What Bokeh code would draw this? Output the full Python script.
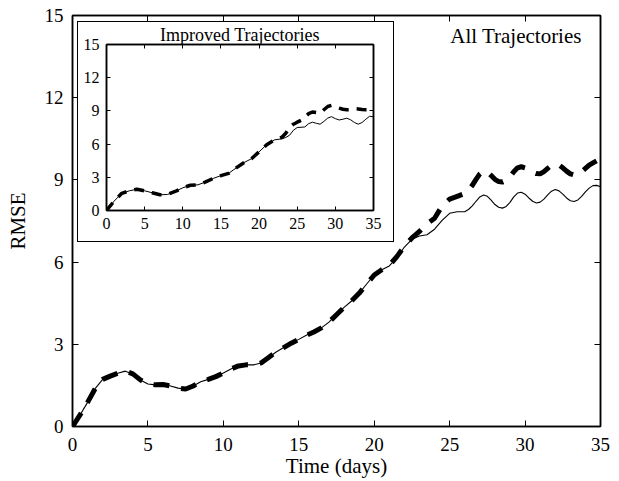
from bokeh.plotting import figure
from bokeh.models import FixedTicker, LinearAxis, Label, Range1d
from bokeh.embed import file_html
from bokeh.resources import INLINE

# ---------------- data ----------------
days_all = [0.0, 0.5, 1.0, 1.5, 2.0, 2.5, 3.0, 3.5, 4.0, 4.5, 5.0, 5.5, 6.0, 6.5, 7.0, 7.5,
            8.0, 8.5, 9.0, 9.5, 10.0, 10.5, 11.0, 11.5, 12.0, 12.5, 13.0, 13.5, 14.0, 14.5,
            15.0, 15.5, 16.0, 16.5, 17.0, 17.5, 18.0, 18.5, 19.0, 19.5, 20.0, 20.5, 21.0,
            21.5, 22.0, 22.5, 23.0, 23.5, 24.0, 24.5, 25.0, 25.5,
            26.0, 26.25, 26.5, 26.75, 27.0, 27.25, 27.5, 27.75, 28.0, 28.25, 28.5, 28.75,
            29.0, 29.25, 29.5, 29.75, 30.0, 30.25, 30.5, 30.75, 31.0, 31.25, 31.5, 31.75,
            32.0, 32.25, 32.5, 32.75, 33.0, 33.25, 33.5, 33.75, 34.0, 34.25, 34.5, 34.75, 35.0]
rmse_all_solid = [0.00, 0.42, 0.88, 1.38, 1.72, 1.84, 1.94, 2.02, 1.92, 1.70, 1.55, 1.52, 1.53,
                  1.48, 1.40, 1.37, 1.48, 1.63, 1.72, 1.82, 1.95, 2.10, 2.21, 2.25, 2.25, 2.32,
                  2.52, 2.72, 2.88, 3.04, 3.18, 3.33, 3.45, 3.60, 3.81, 4.08, 4.35, 4.58, 4.86,
                  5.20, 5.53, 5.72, 5.86, 6.15, 6.55, 6.83, 6.95, 7.00, 7.20, 7.52, 7.78, 7.84,
                  7.84, 7.92, 8.05, 8.22, 8.38, 8.45, 8.40, 8.26, 8.10, 8.00, 7.97, 8.03,
                  8.18, 8.38, 8.52, 8.55, 8.48, 8.34, 8.22, 8.16, 8.19, 8.30, 8.45, 8.59,
                  8.65, 8.60, 8.48, 8.34, 8.24, 8.21, 8.27, 8.40, 8.56, 8.70, 8.79, 8.80, 8.75]
rmse_all_dashed = [0.00, 0.42, 0.88, 1.38, 1.72, 1.84, 1.94, 2.02, 1.92, 1.70, 1.55, 1.52, 1.53,
                   1.48, 1.40, 1.37, 1.48, 1.63, 1.72, 1.82, 1.95, 2.10, 2.21, 2.25, 2.25, 2.32,
                   2.52, 2.72, 2.88, 3.04, 3.18, 3.33, 3.45, 3.60, 3.81, 4.08, 4.35, 4.58, 4.86,
                   5.20, 5.53, 5.72, 5.88, 6.20, 6.58, 6.88, 7.12, 7.40, 7.60, 8.05, 8.30, 8.40,
                   8.50, 8.62, 8.80, 9.02, 9.22, 9.33, 9.30, 9.16, 9.02, 8.94, 8.92, 8.98,
                   9.12, 9.30, 9.44, 9.48, 9.44, 9.36, 9.28, 9.23, 9.22, 9.30, 9.42, 9.53,
                   9.58, 9.54, 9.44, 9.32, 9.22, 9.18, 9.20, 9.30, 9.42, 9.54, 9.62, 9.70, 9.76]

days_imp = [0, 1, 2, 3, 4, 5, 6, 7, 8, 9, 10, 11, 12, 13, 14, 15, 16, 17, 18, 19, 20, 21, 22,
            23, 23.5, 24, 24.5, 25, 25.5, 26, 26.5, 27, 27.5, 28, 28.5, 29, 29.5, 30, 30.5,
            31, 31.5, 32, 32.5, 33, 33.5, 34, 34.5, 35]
rmse_imp_solid = [0.00, 0.85, 1.55, 1.78, 1.92, 1.78, 1.60, 1.42, 1.45, 1.72, 2.05, 2.28, 2.32,
                  2.58, 2.90, 3.15, 3.35, 3.85, 4.32, 4.68, 5.30, 5.95, 6.38, 6.48, 6.60, 6.80,
                  7.25, 7.50, 7.52, 7.55, 7.85, 7.98, 7.88, 7.80, 8.05, 8.35, 8.48, 8.30, 8.18,
                  8.25, 8.34, 8.20, 7.95, 7.80, 7.95, 8.25, 8.52, 8.46]
rmse_imp_dashed = [0.00, 0.85, 1.55, 1.78, 1.92, 1.78, 1.60, 1.42, 1.45, 1.72, 2.05, 2.28, 2.32,
                   2.58, 2.90, 3.15, 3.35, 3.85, 4.32, 4.68, 5.30, 5.95, 6.38, 6.62, 6.98, 7.50,
                   7.80, 7.98, 8.15, 8.45, 8.75, 8.90, 8.85, 8.80, 9.10, 9.40, 9.50, 9.35, 9.25,
                   9.15, 9.10, 9.12, 9.20, 9.18, 9.12, 9.10, 9.10, 9.02]

x_ticks = [0, 5, 10, 15, 20, 25, 30, 35]
y_ticks = [0, 3, 6, 9, 12, 15]
x_label = "Time (days)"
y_label = "RMSE"
main_note = "All Trajectories"
inset_title = "Improved Trajectories"

FONT = "Liberation Serif"


def style_axis(ax, size, standoff):
    ax.axis_line_color = "black"
    ax.axis_line_width = 1.5
    ax.major_tick_line_color = "black"
    ax.major_tick_line_width = 1
    ax.major_tick_in = 6
    ax.major_tick_out = 0
    ax.minor_tick_line_color = None
    ax.major_label_text_font = FONT
    ax.major_label_text_font_size = size
    ax.major_label_text_color = "black"
    ax.major_label_standoff = standoff


def mirror_axes(fig, xt, yt, tick_in):
    top = LinearAxis(ticker=FixedTicker(ticks=xt))
    right = LinearAxis(ticker=FixedTicker(ticks=yt))
    for ax in (top, right):
        style_axis(ax, "0px", 0)
        ax.major_tick_in = tick_in
        ax.major_label_text_alpha = 0
    fig.add_layout(top, "above")
    fig.add_layout(right, "right")


# ---------------- main figure ----------------
p = figure(width=619, height=481, x_range=Range1d(0, 35), y_range=Range1d(0, 15),
           output_backend="svg", toolbar_location=None,
           min_border_left=72, min_border_right=19, min_border_top=15, min_border_bottom=55)
p.xgrid.visible = False
p.ygrid.visible = False
p.outline_line_color = "black"
p.outline_line_width = 1.5
p.background_fill_color = "white"
p.border_fill_color = "white"

p.xaxis.ticker = FixedTicker(ticks=x_ticks)
p.yaxis.ticker = FixedTicker(ticks=y_ticks)
style_axis(p.xaxis[0], "19px", 11)
style_axis(p.yaxis[0], "19px", 9)
p.xaxis.axis_label = x_label
p.yaxis.axis_label = y_label
for ax in (p.xaxis[0], p.yaxis[0]):
    ax.axis_label_text_font = FONT
    ax.axis_label_text_font_size = "21px"
    ax.axis_label_text_font_style = "normal"
    ax.axis_label_text_color = "black"
p.xaxis.axis_label_standoff = 0
p.yaxis.axis_label_standoff = 12
mirror_axes(p, x_ticks, y_ticks, 6)

p.line(days_all, rmse_all_solid, line_color="black", line_width=1.1)
p.line(days_all, rmse_all_dashed, line_color="black", line_width=5, line_dash="16 12")

p.add_layout(Label(x=29.4, y=14.27, text=main_note, text_align="center",
                   text_baseline="middle", text_font=FONT, text_font_size="21px",
                   text_color="black"))

# ---------------- inset figure ----------------
q = figure(width=315, height=219, x_range=Range1d(0, 35), y_range=Range1d(0, 15),
           output_backend="svg", toolbar_location=None,
           min_border_left=28, min_border_right=20, min_border_top=0, min_border_bottom=31,
           styles={"position": "absolute", "left": "78px", "top": "22px",
                   "outline": "1px solid black", "background": "white"})
q.xgrid.visible = False
q.ygrid.visible = False
q.outline_line_color = "black"
q.outline_line_width = 1.5
q.background_fill_color = "white"
q.border_fill_color = "white"
q.xaxis.ticker = FixedTicker(ticks=x_ticks)
q.yaxis.ticker = FixedTicker(ticks=y_ticks)
style_axis(q.xaxis[0], "16px", 7)
style_axis(q.yaxis[0], "16px", 7)
q.xaxis.major_tick_in = 4
q.yaxis.major_tick_in = 4
mirror_axes(q, x_ticks, y_ticks, 4)

q.title.text = inset_title
q.title.align = "center"
q.title.offset = 11
q.title.standoff = 0
q.title.text_font = FONT
q.title.text_font_size = "18px"
q.title.text_font_style = "normal"
q.title.text_color = "black"

q.line(days_imp, rmse_imp_solid, line_color="black", line_width=1)
q.line(days_imp, rmse_imp_dashed, line_color="black", line_width=3.5, line_dash="10 8")

open("out.html", "w").write(file_html([p, q], INLINE))
